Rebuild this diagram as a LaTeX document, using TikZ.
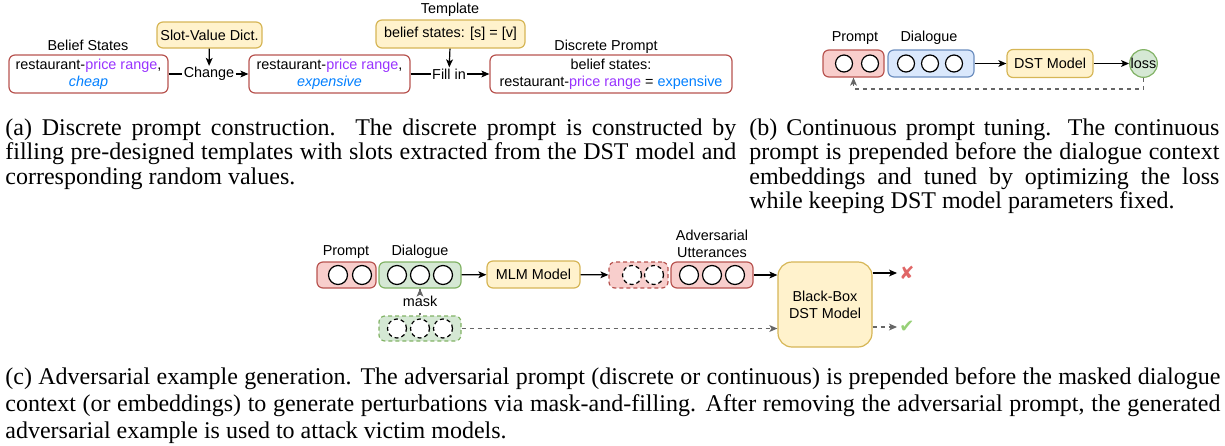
\documentclass[tikz,border=0pt]{standalone}
\usepackage{fontspec}
\setmainfont{Liberation Serif}
\newfontfamily\diafont{Liberation Sans}
\newfontfamily\symfont{DejaVu Sans}
\usetikzlibrary{arrows.meta,positioning}

\definecolor{redfill}{HTML}{F8CECC}
\definecolor{redline}{HTML}{B85450}
\definecolor{bluefill}{HTML}{DAE8FC}
\definecolor{blueline}{HTML}{6C8EBF}
\definecolor{yelfill}{HTML}{FFF2CC}
\definecolor{yelline}{HTML}{D6B656}
\definecolor{grnfill}{HTML}{D5E8D4}
\definecolor{grnline}{HTML}{82B366}
\definecolor{slotcol}{HTML}{9933FF}
\definecolor{valcol}{HTML}{007FFF}
\definecolor{fbgray}{HTML}{666666}
\definecolor{failcol}{HTML}{E06666}
\definecolor{passcol}{HTML}{97D077}

\newcommand\slotc[1]{\textcolor{slotcol}{#1}}
\newcommand\valc[1]{\textcolor{valcol}{\itshape #1}}

\tikzset{
	box/.style={draw, rounded corners=3pt, line width=0.6pt, inner sep=0pt, align=center},
	whitebox/.style={box, draw=redline, fill=white},
	redbox/.style={box, draw=redline, fill=redfill},
	bluebox/.style={box, draw=blueline, fill=bluefill},
	yelbox/.style={box, draw=yelline, fill=yelfill},
	grnbox/.style={box, draw=grnline, fill=grnfill},
	tok/.style={circle, draw, line width=0.6pt, fill=white, inner sep=0pt, minimum size=#1},
	tok/.default=8.5pt,
	dashbox/.style={dash pattern=on 2pt off 1.5pt},
	arr/.style={-{Stealth[length=4pt,width=3.4pt,inset=1pt]}, line width=0.6pt},
	fbarr/.style={arr, draw=fbgray, dash pattern=on 2pt off 2pt},
	caption/.style={anchor=base west, inner sep=0pt, align=justify, font=\fontsize{12}{12.25}\selectfont}
}

\begin{document}
\begin{tikzpicture}[x=0.5pt,y=-0.5pt,
	every node/.style={font=\diafont\fontsize{7.2}{8.6}\selectfont}]
	\useasboundingbox (0,0) rectangle (1225,445);

	% (a)
	\node (bslab) at (88,45) {Belief States};
	\node[whitebox, minimum width=79.5pt, minimum height=19pt] (bs) at (88.5,74) {restaurant-\slotc{price range},\\\valc{cheap}};
	\node[yelbox, minimum width=52.5pt, minimum height=13pt] (svd) at (209.5,35) {Slot-Value Dict.};
	\node[inner sep=0.5pt] (chg) at (209,74) {Change};
	\node[whitebox, minimum width=80.5pt, minimum height=19pt] (bs2) at (329.5,74) {restaurant-\slotc{price range},\\\valc{expensive}};
	\node (tpllab) at (450,10) {Template};
	\node[yelbox, minimum width=74.5pt, minimum height=14pt] (tpl) at (450.5,34) {belief states: [s] = [v]};
	\node[inner sep=0.5pt] (fil) at (449,74) {Fill in};
	\node (dplab) at (606,47) {Discrete Prompt};
	\node[whitebox, minimum width=121pt, minimum height=19pt] (dp) at (611,74) {belief states:\\restaurant-\slotc{price range} = \textcolor{valcol}{expensive}};
	\draw[line width=0.6pt] (bs) -- (chg);
	\draw[arr] (chg) -- (bs2);
	\draw[arr] (svd) -- (chg);
	\draw[line width=0.6pt] (bs2) -- (fil);
	\draw[arr] (fil) -- (dp);
	\draw[arr] (tpl) -- (fil);

	% (b)
	\node (pblab) at (855,38) {Prompt};
	\node[redbox, minimum width=30.5pt, minimum height=13.5pt] (pb) at (853.5,63.5) {};
	\foreach \x in {844,870}
		\node[tok] (pb-\x) at (\x,63.5) {};
	\node (dblab) at (929,38) {Dialogue};
	\node[bluebox, minimum width=43pt, minimum height=13.5pt] (db) at (931,63.5) {};
	\foreach \x in {906,930,954}
		\node[tok] (db-\x) at (\x,63.5) {};
	\node[yelbox, minimum width=43pt, minimum height=14pt] (dst) at (1050,63.5) {DST Model};
	\node[circle, draw=grnline, fill=grnfill, line width=0.6pt, inner sep=0pt, minimum size=13.5pt] (loss) at (1143.5,63.5) {loss};
	\coordinate (fbc) at (853.5,89);
	\draw[arr] (db) -- (dst);
	\draw[arr] (dst) -- (loss);
	\draw[fbarr] (loss.south) |- (fbc) -- (pb.south);

	% (c)
	\node (pclab) at (346,252) {Prompt};
	\node[redbox, minimum width=29.5pt, minimum height=13pt] (pc) at (346.5,275) {};
	\foreach \x in {338,362}
		\node[tok=9.5pt] (pc-\x) at (\x,275) {};
	\node (dclab) at (420,252) {Dialogue};
	\node[grnbox, minimum width=41pt, minimum height=13pt] (dc) at (420,275) {};
	\foreach \x in {397,420,443}
		\node[tok=9.5pt] (dc-\x) at (\x,275) {};
	\node[yelbox, minimum width=46.5pt, minimum height=13.5pt] (mlm) at (533.5,274.5) {MLM Model};
	\node[redbox, dashbox, minimum width=29.5pt, minimum height=13pt] (pd) at (638.5,275) {};
	\foreach \x in {632,654}
		\node[tok=9.5pt, dashbox] (pd-\x) at (\x,275) {};
	\node[align=center] (aclab) at (712,243.5) {Adversarial\\Utterances};
	\node[redbox, minimum width=41pt, minimum height=13pt] (ac) at (712,275) {};
	\foreach \x in {689,712,735}
		\node[tok=9.5pt] (ac-\x) at (\x,275) {};
	\node[yelbox, rounded corners=7pt, minimum width=47pt, minimum height=42.5pt] (bb) at (825,304.5) {Black-Box\\DST Model};
	\node (mask) at (420,301) {mask};
	\node[grnbox, dashbox, minimum width=41pt, minimum height=12.5pt] (dm) at (420,328.5) {};
	\foreach \x in {397,420,443}
		\node[tok=9.5pt, dashbox] (dm-\x) at (\x,328.5) {};
	\node[text=failcol, inner sep=1pt, font=\symfont\fontsize{9}{9}\selectfont] (fail) at (907,273) {✘};
	\node[text=passcol, inner sep=1pt, font=\symfont\fontsize{9}{9}\selectfont] (pass) at (907,327) {✔};
	\draw[arr] (dc) -- (mlm);
	\draw[arr] (mlm) -- (pd);
	\draw[arr] (ac) -- (bb.west |- ac);
	\draw[arr] (bb.east |- fail) -- (fail.west);
	\draw[fbarr] (dm) -- (mask) -- (dc);
	\draw[fbarr] (dm.east) -- (dm.east -| bb.west);
	\draw[fbarr] (bb.east |- pass) -- (pass.west);

	% captions
	\node[caption, text width=365.5pt] (capa) at (5,135) {(a) Discrete prompt construction.\ \ The discrete prompt is constructed by\linebreak filling pre-designed templates with slots extracted from the DST model and\linebreak corresponding random values.};
	\node[caption, text width=235pt] (capb) at (749,135) {(b) Continuous prompt tuning. The continuous\linebreak prompt is prepended before the dialogue context\linebreak embeddings and tuned by optimizing the loss\linebreak while keeping DST model parameters fixed.};
	\node[caption, text width=607.5pt, font=\fontsize{12}{13.5}\selectfont] (capc) at (5,384) {(c) Adversarial example generation. The adversarial prompt (discrete or continuous) is prepended before the masked dialogue\linebreak context (or embeddings) to generate perturbations via mask-and-filling. After removing the adversarial prompt, the generated\linebreak adversarial example is used to attack victim models.};
\end{tikzpicture}
\end{document}
